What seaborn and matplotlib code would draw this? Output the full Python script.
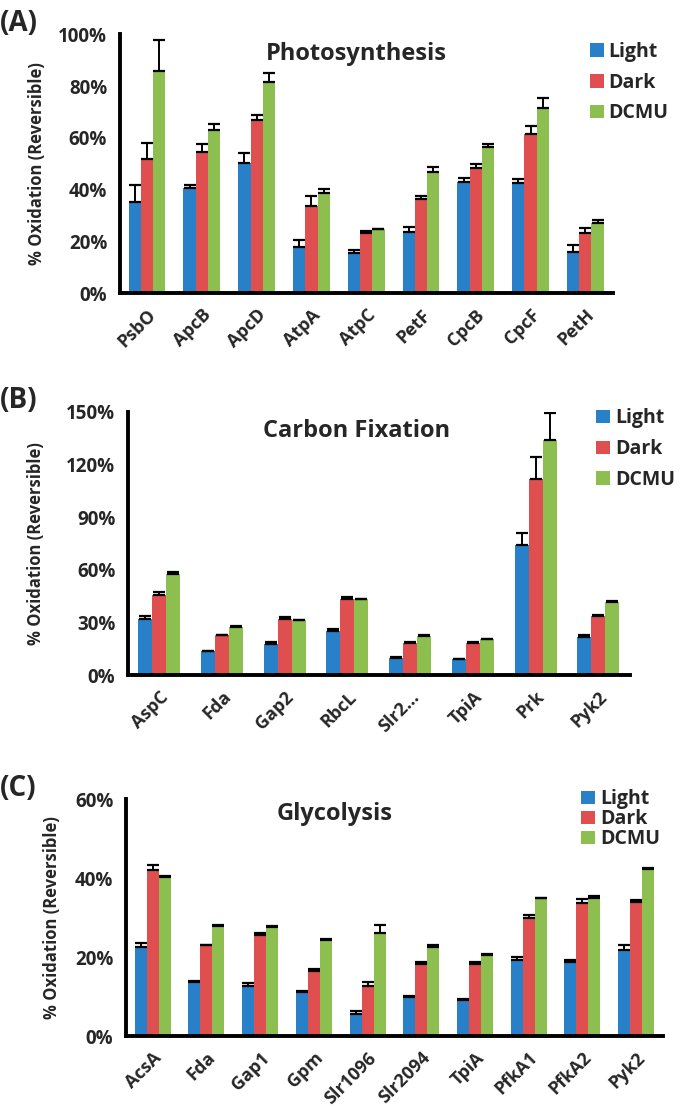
import numpy as np
import pandas as pd
import seaborn as sns
import matplotlib

matplotlib.use("Agg")
import matplotlib.pyplot as plt

conditions = ["Light", "Dark", "DCMU"]
colors = ["#2880c8", "#e04f4f", "#8cbf4f"]

# (A) Photosynthesis
photo_genes = ["PsbO", "ApcB", "ApcD", "AtpA", "AtpC", "PetF", "CpcB", "CpcF", "PetH"]
photo_light = [35.4, 40.6, 50.4, 18.0, 15.4, 23.8, 43.0, 42.6, 15.9]
photo_dark = [51.8, 54.7, 67.0, 33.9, 23.2, 36.5, 48.2, 61.6, 23.4]
photo_dcmu = [85.9, 63.2, 81.4, 38.8, 24.7, 46.9, 56.6, 71.4, 27.1]
photo_light_err = [6.3, 1.1, 3.9, 2.6, 1.3, 2.0, 1.7, 1.7, 2.6]
photo_dark_err = [6.1, 2.8, 2.0, 3.5, 1.0, 0.9, 1.9, 3.1, 2.0]
photo_dcmu_err = [11.8, 2.2, 3.5, 1.6, 0.3, 1.8, 1.0, 4.1, 1.2]

# (B) Carbon fixation
carbon_genes = ["AspC", "Fda", "Gap2", "RbcL", "Slr2...", "TpiA", "Prk", "Pyk2"]
carbon_light = [32.1, 13.8, 17.9, 25.4, 10.0, 9.0, 74.4, 21.7]
carbon_dark = [45.6, 22.7, 32.1, 43.7, 18.3, 18.3, 111.5, 33.7]
carbon_dcmu = [57.7, 27.5, 31.2, 43.3, 22.5, 20.6, 133.7, 41.9]
carbon_light_err = [1.9, 0.3, 0.8, 1.1, 0.3, 0.3, 6.8, 1.0]
carbon_dark_err = [1.9, 0.3, 0.8, 1.1, 0.4, 0.4, 12.9, 0.4]
carbon_dcmu_err = [1.0, 0.3, 0.3, 0.3, 0.3, 0.3, 15.9, 0.4]

# (C) Glycolysis
glyco_genes = ["AcsA", "Fda", "Gap1", "Gpm", "Slr1096", "Slr2094", "TpiA", "PfkA1", "PfkA2", "Pyk2"]
glyco_light = [22.6, 13.8, 12.8, 11.2, 5.5, 10.0, 9.1, 19.3, 18.7, 21.7]
glyco_dark = [42.1, 23.0, 25.5, 16.6, 12.8, 18.3, 18.3, 29.8, 33.6, 33.9]
glyco_dcmu = [40.2, 27.9, 27.6, 24.3, 26.2, 22.6, 20.6, 34.9, 35.1, 42.3]
glyco_light_err = [1.1, 0.2, 0.6, 0.2, 0.9, 0.2, 0.2, 0.7, 0.6, 1.3]
glyco_dark_err = [1.3, 0.2, 0.5, 0.3, 1.0, 0.4, 0.4, 1.0, 1.1, 0.7]
glyco_dcmu_err = [0.3, 0.2, 0.2, 0.2, 1.9, 0.4, 0.2, 0.2, 0.5, 0.4]


def build_df(genes, light, dark, dcmu):
    data = {"Gene": [], "Oxidation": [], "Condition": []}
    for cond, vals in zip(conditions, [light, dark, dcmu]):
        data["Gene"] += genes
        data["Oxidation"] += vals
        data["Condition"] += [cond] * len(genes)
    return pd.DataFrame(data)


def draw_panel(fig, rect, letter, title, genes, vals, errs, yticks,
               title_pos, legend_anchor, label_spacing, ylabel_x):
    ax = fig.add_axes(rect)
    df = build_df(genes, *vals)
    sns.barplot(
        data=df, x="Gene", y="Oxidation", hue="Condition",
        palette=colors, width=0.67, errorbar=None, saturation=1,
        edgecolor="none", linewidth=0, ax=ax,
    )
    # upper-only error bars on each bar
    for cont, err in zip(ax.containers, errs):
        xs = [p.get_x() + p.get_width() / 2 for p in cont.patches]
        hs = [p.get_height() for p in cont.patches]
        ax.errorbar(xs, hs, yerr=[np.zeros(len(err)), err], fmt="none",
                    ecolor="black", elinewidth=1.4, capsize=4, capthick=1.6)

    n = len(genes)
    ax.set_xlim(-0.5, n - 0.5)
    ax.set_ylim(yticks[0], yticks[-1])
    ax.set_yticks(yticks)
    ax.set_yticklabels([f"{t}%" for t in yticks], fontsize=13.5, fontweight="bold")
    ax.set_xticks(range(n))
    ax.set_xticklabels(genes, rotation=45, ha="right", rotation_mode="anchor",
                       fontsize=13, fontweight="bold")
    ax.tick_params(axis="x", which="major", length=0, pad=9)
    ax.set_xticks(np.arange(n + 1) - 0.5, minor=True)
    ax.tick_params(axis="x", which="minor", length=6, width=2.4, direction="out")
    ax.tick_params(axis="y", length=5, width=2.4, direction="out", pad=4)
    ax.set_xlabel("")
    ax.set_ylabel("% Oxidation (Reversible)", fontsize=12, fontweight="bold")
    ax.yaxis.set_label_coords(ylabel_x, 0.5)
    for side in ["top", "right"]:
        ax.spines[side].set_visible(False)
    for side in ["left", "bottom"]:
        ax.spines[side].set_linewidth(2.8)
        ax.spines[side].set_color("black")
    ax.grid(False)

    ax.text(title_pos[0], title_pos[1], title, transform=ax.transAxes,
            ha="center", va="center", fontsize=17, fontweight="bold")
    fig.text(0.0, rect[1] + rect[3] + 0.01, letter, fontsize=20,
             fontweight="bold", va="center", ha="left")

    ax.legend(loc="upper left", bbox_to_anchor=legend_anchor,
              bbox_transform=fig.transFigure, frameon=False,
              prop={"size": 14, "weight": "bold"}, handlelength=0.7,
              handleheight=0.7, handletextpad=0.25, labelspacing=label_spacing,
              borderaxespad=0, borderpad=0)
    return ax


sns.set_style("white")
plt.rcParams["font.family"] = ["Open Sans", "DejaVu Sans"]

fig = plt.figure(figsize=(6.8, 11.07), dpi=100)

draw_panel(
    fig, [0.176, 0.735, 0.725, 0.234], "(A)", "Photosynthesis",
    photo_genes, [photo_light, photo_dark, photo_dcmu],
    [photo_light_err, photo_dark_err, photo_dcmu_err],
    [0, 20, 40, 60, 80, 100], (0.48, 0.925), (0.868, 0.962), 0.55, -0.15,
)
draw_panel(
    fig, [0.188, 0.390, 0.738, 0.238], "(B)", "Carbon Fixation",
    carbon_genes, [carbon_light, carbon_dark, carbon_dcmu],
    [carbon_light_err, carbon_dark_err, carbon_dcmu_err],
    [0, 30, 60, 90, 120, 150], (0.456, 0.928), (0.877, 0.631), 0.55, -0.165,
)
draw_panel(
    fig, [0.185, 0.064, 0.790, 0.214], "(C)", "Glycolysis",
    glyco_genes, [glyco_light, glyco_dark, glyco_dcmu],
    [glyco_light_err, glyco_dark_err, glyco_dcmu_err],
    [0, 20, 40, 60], (0.389, 0.937), (0.855, 0.287), 0.0, -0.12,
)

plt.savefig("out.png", dpi=100)
plt.close()
